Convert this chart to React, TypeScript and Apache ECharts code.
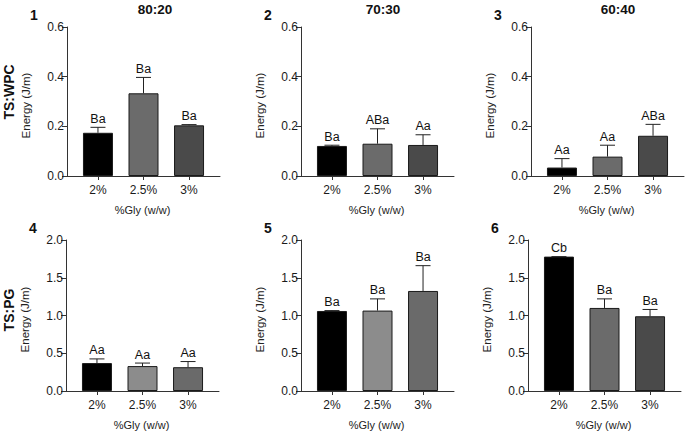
import React, { useEffect, useRef } from "react";
import * as echarts from "echarts";

const categories = ["2%", "2.5%", "3%"];
const columnTitles = ["80:20", "70:30", "60:40"];
const rowTitles = ["TS:WPC", "TS:PG"];
const panelNumbers = ["1", "2", "3", "4", "5", "6"];
const yAxisTitle = "Energy (J/m)";
const xAxisTitle = "%Gly (w/w)";

// Panel 1 (TS:WPC, 80:20)
const mean1 = [0.174, 0.333, 0.204];
const sd1 = [0.022, 0.064, 0.003];
const letters1 = ["Ba", "Ba", "Ba"];
// Panel 2 (TS:WPC, 70:30)
const mean2 = [0.121, 0.13, 0.125];
const sd2 = [0.003, 0.06, 0.041];
const letters2 = ["Ba", "ABa", "Aa"];
// Panel 3 (TS:WPC, 60:40)
const mean3 = [0.034, 0.078, 0.162];
const sd3 = [0.036, 0.046, 0.046];
const letters3 = ["Aa", "Aa", "ABa"];
// Panel 4 (TS:PG, 80:20)
const mean4 = [0.37, 0.33, 0.315];
const sd4 = [0.055, 0.04, 0.075];
const letters4 = ["Aa", "Aa", "Aa"];
// Panel 5 (TS:PG, 70:30)
const mean5 = [1.06, 1.065, 1.325];
const sd5 = [0.005, 0.155, 0.335];
const letters5 = ["Ba", "Ba", "Ba"];
// Panel 6 (TS:PG, 60:40)
const mean6 = [1.78, 1.1, 0.99];
const sd6 = [0.0, 0.12, 0.09];
const letters6 = ["Cb", "Ba", "Ba"];

const yMaxTop = 0.6;
const yStepTop = 0.2;
const yMaxBottom = 2.0;
const yStepBottom = 0.5;

const darkColors = ["#000000", "#6b6b6b", "#4a4a4a"];
const lightColors = ["#000000", "#8c8c8c", "#6a6a6a"];

const FONT = "'Liberation Sans', Arial, Helvetica, sans-serif";

export default function App() {
  const ref = useRef<HTMLDivElement>(null);

  useEffect(() => {
    if (!ref.current) return;
    const chart = echarts.init(ref.current, undefined, { renderer: "svg" });

    const panels = [
      { mean: mean1, sd: sd1, letters: letters1, colors: darkColors, ymax: yMaxTop, step: yStepTop, left: 67, top: 27, h: 149 },
      { mean: mean2, sd: sd2, letters: letters2, colors: darkColors, ymax: yMaxTop, step: yStepTop, left: 301, top: 27, h: 149 },
      { mean: mean3, sd: sd3, letters: letters3, colors: darkColors, ymax: yMaxTop, step: yStepTop, left: 531, top: 27, h: 149 },
      { mean: mean4, sd: sd4, letters: letters4, colors: lightColors, ymax: yMaxBottom, step: yStepBottom, left: 66, top: 240, h: 151 },
      { mean: mean5, sd: sd5, letters: letters5, colors: lightColors, ymax: yMaxBottom, step: yStepBottom, left: 301, top: 240, h: 151 },
      { mean: mean6, sd: sd6, letters: letters6, colors: darkColors, ymax: yMaxBottom, step: yStepBottom, left: 528, top: 240, h: 151 },
    ];
    const W = 153;
    const xMin = -0.68;
    const xMax = 2.68;

    const grid: any[] = [];
    const xAxis: any[] = [];
    const yAxis: any[] = [];
    const series: any[] = [];
    const graphic: any[] = [];

    panels.forEach((p, k) => {
      grid.push({ left: p.left, top: p.top, width: W, height: p.h, containLabel: false });
      xAxis.push({
        type: "value",
        gridIndex: k,
        min: xMin,
        max: xMax,
        splitLine: { show: false },
        axisLine: { show: true, onZero: false, lineStyle: { color: "#333", width: 1 } },
        axisTick: { show: true, length: 4, customValues: [0, 1, 2], lineStyle: { color: "#333" } },
        axisLabel: {
          show: true,
          customValues: [0, 1, 2],
          formatter: (v: number) => categories[Math.round(v)] ?? "",
          color: "#1a1a1a",
          fontSize: 12,
          fontFamily: FONT,
          margin: 8,
        },
      });
      yAxis.push({
        type: "value",
        gridIndex: k,
        min: 0,
        max: p.ymax,
        interval: p.step,
        splitLine: { show: false },
        axisLine: { show: true, onZero: false, lineStyle: { color: "#333", width: 1 } },
        axisTick: { show: true, length: 5, lineStyle: { color: "#333" } },
        axisLabel: {
          color: "#1a1a1a",
          fontSize: 12,
          fontFamily: FONT,
          margin: 3,
          formatter: (v: number) => v.toFixed(1),
        },
      });
      series.push({
        type: "bar",
        xAxisIndex: k,
        yAxisIndex: k,
        barWidth: 30,
        data: p.mean.map((m, i) => ({
          value: [i, m],
          itemStyle: { color: p.colors[i], borderColor: "#1a1a1a", borderWidth: 1 },
        })),
        silent: true,
      });
      series.push({
        type: "custom",
        xAxisIndex: k,
        yAxisIndex: k,
        data: p.mean.map((m, i) => [i, m, p.sd[i]]),
        encode: { x: 0, y: 1 },
        z: 5,
        renderItem: (params: any, api: any) => {
          const x = api.value(0);
          const m = api.value(1);
          const s = api.value(2);
          const base = api.coord([x, m]);
          const top = api.coord([x, m + s]);
          const letter = p.letters[params.dataIndex];
          return {
            type: "group",
            children: [
              {
                type: "line",
                shape: { x1: base[0], y1: base[1], x2: top[0], y2: top[1] },
                style: { stroke: "#222", lineWidth: 1 },
              },
              {
                type: "line",
                shape: { x1: top[0] - 7.5, y1: top[1], x2: top[0] + 7.5, y2: top[1] },
                style: { stroke: "#222", lineWidth: 1 },
              },
              {
                type: "text",
                x: top[0],
                y: top[1] - 2,
                style: {
                  text: letter,
                  fill: "#111",
                  fontSize: 12.5,
                  fontFamily: FONT,
                  align: "center",
                  verticalAlign: "bottom",
                },
              },
            ],
          };
        },
      });

      // y axis title
      const yCenter = p.top + p.h / 2 + 4;
      graphic.push({
        type: "text",
        x: p.left - 41,
        y: yCenter,
        rotation: Math.PI / 2,
        style: {
          text: yAxisTitle,
          fill: "#222",
          fontSize: 11.5,
          fontFamily: FONT,
          align: "center",
          verticalAlign: "middle",
        },
      });
      // x axis title
      graphic.push({
        type: "text",
        x: p.left + W / 2 - 1,
        y: p.top + p.h + 34,
        style: {
          text: xAxisTitle,
          fill: "#222",
          fontSize: 11,
          fontFamily: FONT,
          align: "center",
          verticalAlign: "middle",
        },
      });
      // panel number
      graphic.push({
        type: "text",
        x: p.left - 33,
        y: p.top - 12,
        style: {
          text: panelNumbers[k],
          fill: "#111",
          fontSize: 14,
          fontWeight: "bold",
          fontFamily: FONT,
          align: "center",
          verticalAlign: "middle",
        },
      });
    });

    const titleX = [155, 383, 618];
    columnTitles.forEach((t, i) => {
      graphic.push({
        type: "text",
        x: titleX[i],
        y: 9,
        style: {
          text: t,
          fill: "#111",
          fontSize: 13.5,
          fontWeight: "bold",
          fontFamily: FONT,
          align: "center",
          verticalAlign: "middle",
        },
      });
    });
    const rowY = [92, 310];
    rowTitles.forEach((t, i) => {
      graphic.push({
        type: "text",
        x: 9,
        y: rowY[i],
        rotation: Math.PI / 2,
        style: {
          text: t,
          fill: "#111",
          fontSize: 14,
          fontWeight: "bold",
          fontFamily: FONT,
          align: "center",
          verticalAlign: "middle",
        },
      });
    });

    chart.setOption({
      animation: false,
      backgroundColor: "#ffffff",
      grid,
      xAxis,
      yAxis,
      series,
      graphic,
    });

    return () => chart.dispose();
  }, []);

  return (
    <div
      ref={ref}
      style={{ position: "fixed", left: 0, top: 0, width: 685, height: 434, background: "#fff" }}
    />
  );
}
